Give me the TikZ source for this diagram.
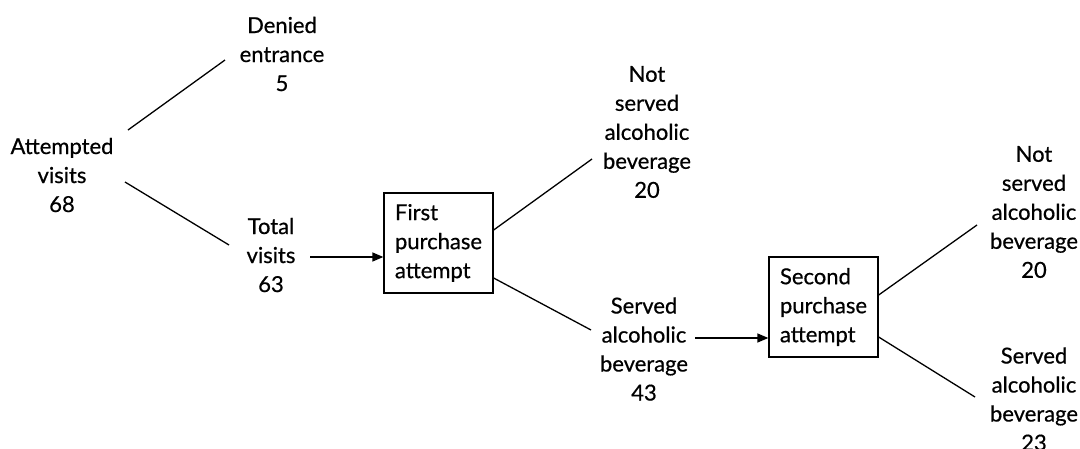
\documentclass[tikz,border=0pt]{standalone}
\usepackage{fontspec}
\setmainfont{Lato}
\newfontfamily\diafont{Lato}[FakeBold=0.6]
\usetikzlibrary{arrows.meta}
\begin{document}
\begin{tikzpicture}[x=1pt,y=-1pt,
  lbl/.style={align=center,inner sep=0pt,font=\diafont\fontsize{22}{29}\selectfont},
  boxnode/.style={draw,line width=1.3pt,minimum width=109pt,minimum height=100pt,inner sep=0pt,align=left,font=\diafont\fontsize{22}{29}\selectfont},
  conn/.style={line width=1.3pt},
  arr/.style={line width=1.3pt,-{Triangle[length=11pt,width=9pt]}}]
\useasboundingbox (0,0) rectangle (1080,448);
\node[lbl] (att) at (62,175) {Attempted\\visits\\68};
\node[lbl] (den) at (282,54) {Denied\\entrance\\5};
\node[lbl] (tot) at (271,255) {Total\\visits\\63};
\node[boxnode] (fp) at (438.5,243) {First\\purchase\\attempt};
\node[lbl] (ns1) at (647,132) {Not\\served\\alcoholic\\beverage\\20};
\node[lbl] (sv1) at (644,349) {Served\\alcoholic\\beverage\\43};
\node[boxnode] (sp) at (823.5,307) {Second\\purchase\\attempt};
\node[lbl] (ns2) at (1034,212) {Not\\served\\alcoholic\\beverage\\20};
\node[lbl] (sv2) at (1034,399) {Served\\alcoholic\\beverage\\23};
\draw[conn] ([shift={(66,-45)}]att.center) -- ([shift={(-57,6)}]den.center);
\draw[conn] ([shift={(63,7)}]att.center) -- ([shift={(-42,-10)}]tot.center);
\draw[arr] ([shift={(39,2)}]tot.center) -- ([shift={(0,14)}]fp.west);
\draw[conn] ([shift={(0,-13)}]fp.east) -- ([shift={(-55,27)}]ns1.center);
\draw[conn] ([shift={(0,35)}]fp.east) -- ([shift={(-53,-19)}]sv1.center);
\draw[arr] ([shift={(51,-11)}]sv1.center) -- ([shift={(0,31)}]sp.west);
\draw[conn] ([shift={(0,-12)}]sp.east) -- ([shift={(-57,13)}]ns2.center);
\draw[conn] ([shift={(0,30)}]sp.east) -- ([shift={(-59,-2)}]sv2.center);
\end{tikzpicture}
\end{document}
